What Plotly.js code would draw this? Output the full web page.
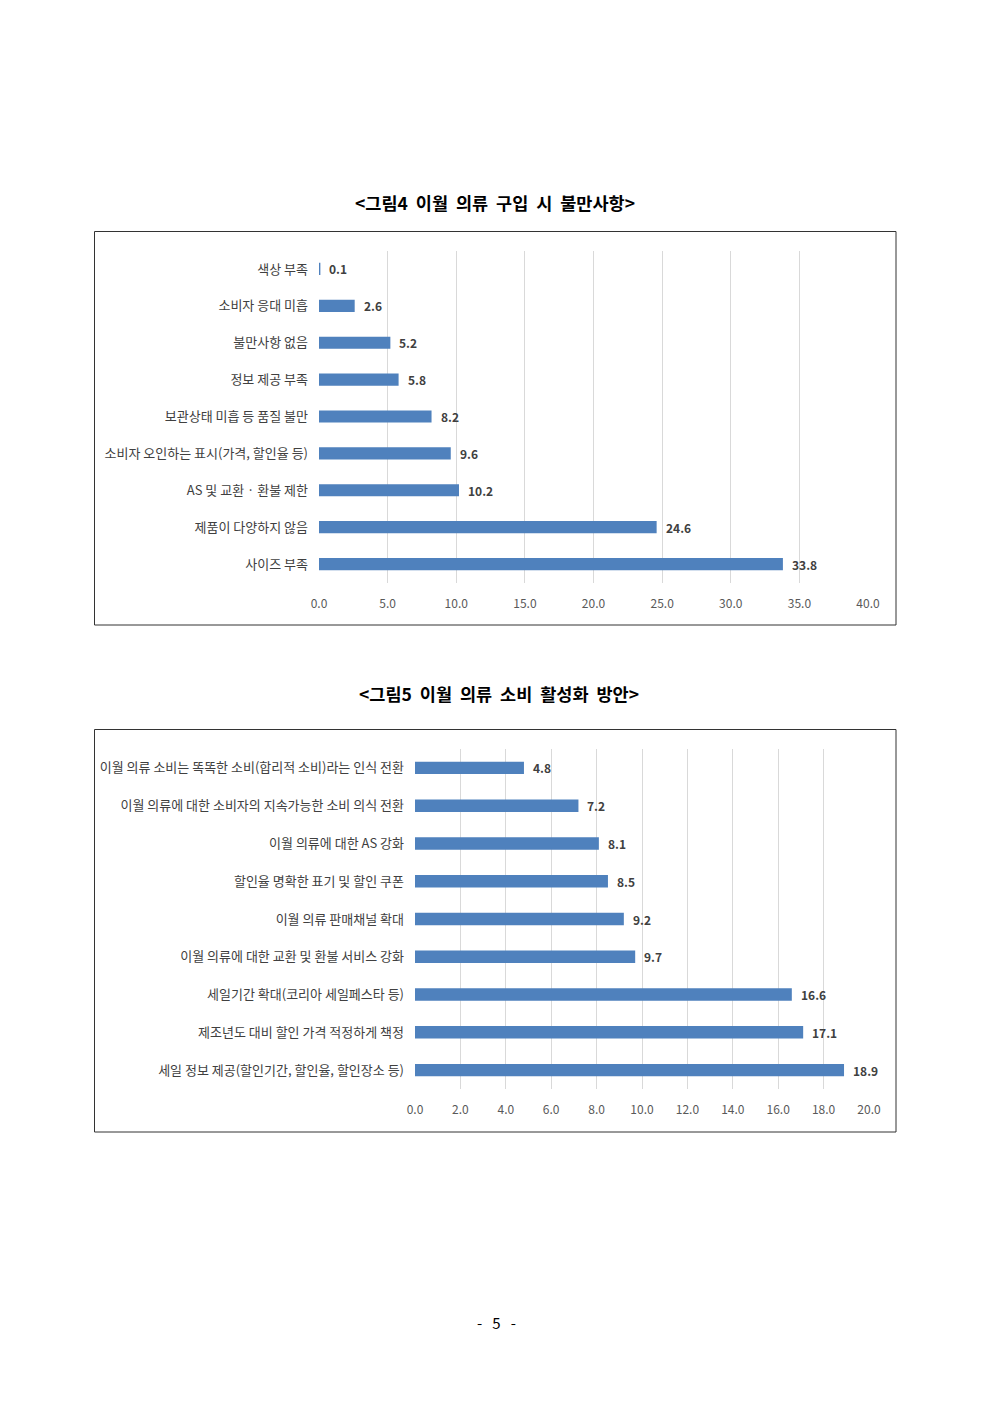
<!DOCTYPE html>
<html>
<head>
<meta charset="utf-8">
<script src="https://cdn.plot.ly/plotly-3.0.1.min.js"></script>
<style>
html,body{margin:0;padding:0;background:#fff;}
#chart{width:992px;height:1403px;}
</style>
</head>
<body>
<div id="chart"></div>
<script>
// Figure 4 data (top to bottom)
const cats1 = ['색상 부족','소비자 응대 미흡','불만사항 없음','정보 제공 부족','보관상태 미흡 등 품질 불만','소비자 오인하는 표시(가격, 할인율 등)','AS 및 교환 · 환불 제한','제품이 다양하지 않음','사이즈 부족'];
const vals1 = [0.1, 2.6, 5.2, 5.8, 8.2, 9.6, 10.2, 24.6, 33.8];
const ticks1 = [0, 5, 10, 15, 20, 25, 30, 35, 40];

// Figure 5 data (top to bottom)
const cats2 = ['이월 의류 소비는 똑똑한 소비(합리적 소비)라는 인식 전환','이월 의류에 대한 소비자의 지속가능한 소비 의식 전환','이월 의류에 대한 AS 강화','할인율 명확한 표기 및 할인 쿠폰','이월 의류 판매채널 확대','이월 의류에 대한 교환 및 환불 서비스 강화','세일기간 확대(코리아 세일페스타 등)','제조년도 대비 할인 가격 적정하게 책정','세일 정보 제공(할인기간, 할인율, 할인장소 등)'];
const vals2 = [4.8, 7.2, 8.1, 8.5, 9.2, 9.7, 16.6, 17.1, 18.9];
const ticks2 = [0, 2, 4, 6, 8, 10, 12, 14, 16, 18, 20];

const title1 = '<그림4 이월 의류 구입 시 불만사항>';
const title2 = '<그림5 이월 의류 소비 활성화 방안>';
const pageNo = '- 5 -';

const W = 992, H = 1403;
const px = v => v / W;
const py = v => 1 - v / H;
const wide = s => s.split(' ').join(' \u00A0');

const FONT = '"Noto Sans CJK KR", "Noto Sans", sans-serif';
const BAR = '#4F81BD';

const traces = [
  {
    type: 'bar', orientation: 'h', x: vals1, y: cats1,
    xaxis: 'x', yaxis: 'y',
    marker: {color: BAR, line: {width: 0}},
    hoverinfo: 'skip'
  },
  {
    type: 'bar', orientation: 'h', x: vals2, y: cats2,
    xaxis: 'x2', yaxis: 'y2',
    marker: {color: BAR, line: {width: 0}},
    hoverinfo: 'skip'
  }
];

const xCommon = {
  showgrid: true, gridcolor: '#d9d9d9', gridwidth: 1,
  zeroline: false, showline: false, ticks: '',
  tickfont: {family: FONT, size: 12, color: '#595959'},
  ticklabelstandoff: 12, fixedrange: true
};
const yCommon = {
  type: 'category', autorange: 'reversed', showgrid: false, zeroline: false,
  showline: false, ticks: '',
  tickfont: {family: FONT, size: 13, color: '#404040'},
  ticklabelstandoff: 10, fixedrange: true
};

const valueLabels = [];
cats1.forEach((c, i) => valueLabels.push({
  text: vals1[i].toFixed(1), xref: 'x', yref: 'y', x: vals1[i], y: c,
  xanchor: 'left', yanchor: 'middle', xshift: 7, showarrow: false,
  font: {family: FONT, size: 12, color: '#404040', weight: 'bold'}
}));
cats2.forEach((c, i) => valueLabels.push({
  text: vals2[i].toFixed(1), xref: 'x2', yref: 'y2', x: vals2[i], y: c,
  xanchor: 'left', yanchor: 'middle', xshift: 7, showarrow: false,
  font: {family: FONT, size: 12, color: '#404040', weight: 'bold'}
}));

const layout = {
  width: W, height: H,
  margin: {l: 0, r: 0, t: 0, b: 0},
  paper_bgcolor: '#fff', plot_bgcolor: 'rgba(0,0,0,0)',
  showlegend: false,
  bargap: 0.67,
  font: {family: FONT},
  xaxis: Object.assign({}, xCommon, {
    domain: [px(319), px(868)], range: [0, 40], tickvals: ticks1,
    ticktext: ticks1.map(v => v.toFixed(1)), anchor: 'y'
  }),
  yaxis: Object.assign({}, yCommon, {domain: [py(582.5), py(250.5)], anchor: 'x'}),
  xaxis2: Object.assign({}, xCommon, {
    domain: [px(415), px(869)], range: [0, 20], tickvals: ticks2,
    ticktext: ticks2.map(v => v.toFixed(1)), anchor: 'y2'
  }),
  yaxis2: Object.assign({}, yCommon, {domain: [py(1089), py(749)], anchor: 'x2'}),
  shapes: [
    {type: 'rect', xref: 'paper', yref: 'paper', x0: px(94.5), x1: px(896), y0: py(625), y1: py(231.5),
     line: {color: '#333', width: 1}, fillcolor: 'rgba(0,0,0,0)'},
    {type: 'rect', xref: 'paper', yref: 'paper', x0: px(94.5), x1: px(896), y0: py(1132), y1: py(729.5),
     line: {color: '#333', width: 1}, fillcolor: 'rgba(0,0,0,0)'}
  ],
  annotations: valueLabels.concat([
    {text: wide(title1), xref: 'paper', yref: 'paper', x: px(495), y: py(202), showarrow: false,
     xanchor: 'center', yanchor: 'middle', font: {family: FONT, size: 17.5, color: '#000', weight: 'bold'}},
    {text: wide(title2), xref: 'paper', yref: 'paper', x: px(499), y: py(694), showarrow: false,
     xanchor: 'center', yanchor: 'middle', font: {family: FONT, size: 17.5, color: '#000', weight: 'bold'}},
    {text: '-\u00A0\u00A0\u00A05\u00A0\u00A0\u00A0-', xref: 'paper', yref: 'paper', x: px(496), y: py(1322), showarrow: false,
     xanchor: 'center', yanchor: 'middle', font: {family: FONT, size: 15, color: '#000'}}
  ])
};

Plotly.newPlot('chart', traces, layout, {staticPlot: true, displayModeBar: false});
</script>
</body>
</html>
